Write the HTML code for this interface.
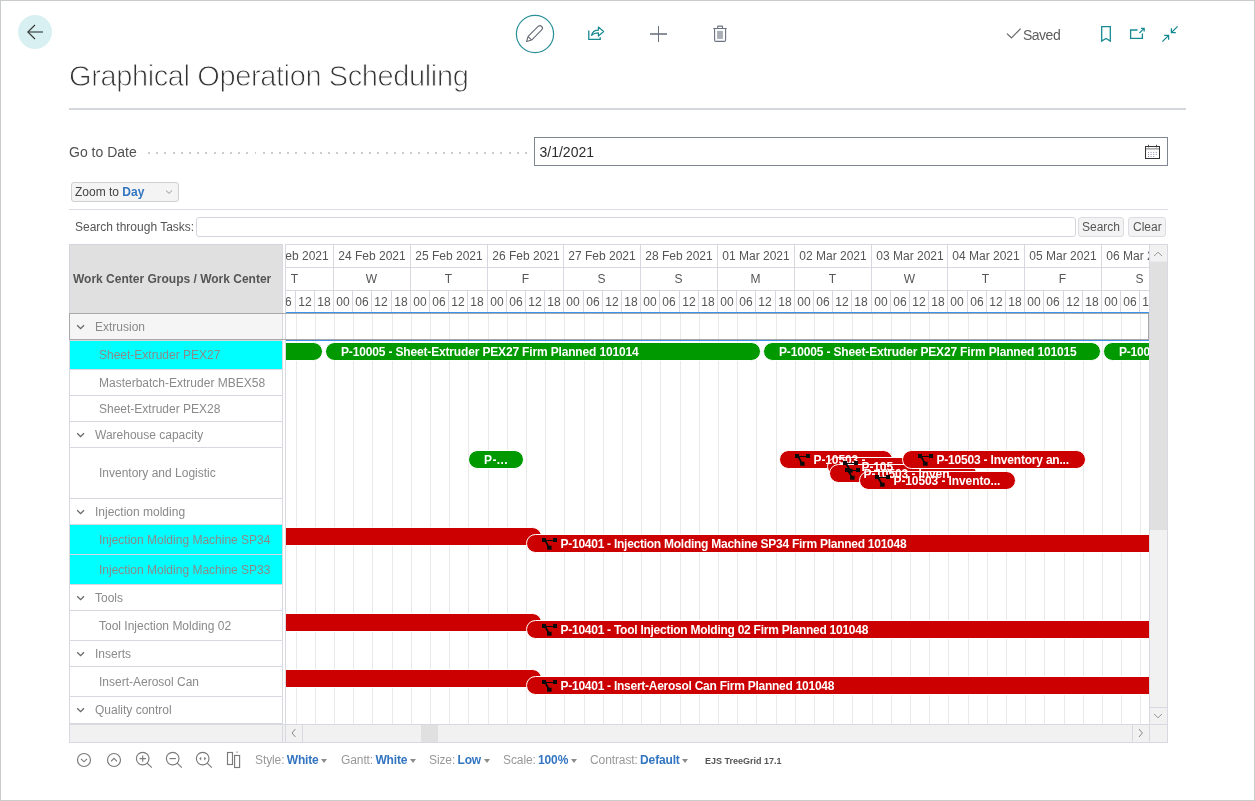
<!DOCTYPE html><html><head><meta charset="utf-8"><title>Graphical Operation Scheduling</title><style>
*{box-sizing:border-box}
html,body{margin:0;padding:0}
body{width:1255px;height:801px;position:relative;overflow:hidden;background:#fff;font-family:"Liberation Sans",sans-serif;color:#444}
.a{position:absolute}
.frame{left:0;top:0;width:1255px;height:801px;border:1px solid #c9cccc;z-index:50;pointer-events:none}
.t{position:absolute;white-space:nowrap;line-height:1}
.hl{position:absolute;background:#d8d8e0}
.row{position:absolute;left:69px;width:214px;border-bottom:1px solid #d8d8e0;border-left:1px solid #d8d8e0;background:#fff}
.rt{position:absolute;white-space:nowrap;font-size:12px;color:#8a8a8a;line-height:14px}
.bar{position:absolute;height:19px;border-radius:9.5px;border:1px solid #fff;color:#fff;font-weight:bold;font-size:12px;line-height:17px;letter-spacing:-0.2px;white-space:nowrap;overflow:hidden}
.g{background:#009900}
.r{background:#cc0000}
.hd{position:absolute;font-size:12px;color:#555;white-space:nowrap;line-height:14px}
.tb{position:absolute;letter-spacing:-0.1px;font-size:12px;white-space:nowrap;line-height:14px;color:#999;top:753px}
.tb b{color:#3375c0;letter-spacing:-0.15px}
</style></head><body><div class="a" style="left:0;top:0;width:1255px;height:801px;will-change:transform">
<div class="a frame"></div>
<div class="a" style="left:18px;top:15px;width:34px;height:34px;border-radius:50%;background:#d9f0f3"></div>
<svg class="a" style="left:18px;top:15px" width="34" height="34" viewBox="0 0 34 34"><path d="M25 17H10" fill="none" stroke="#5a6666" stroke-width="1.5"/><path d="M17 10L9.8 17l7.2 7" fill="none" stroke="#333" stroke-width="1.1"/></svg>
<svg class="a" style="left:514px;top:13px" width="42" height="42" viewBox="0 0 42 42"><circle cx="21" cy="21" r="18.6" fill="none" stroke="#2a9098" stroke-width="1.2"/><path d="M12.6 28.5L14.08 23.48L24.12 13.44A2.5 2.5 0 0 1 27.66 16.98L17.62 27.02Z M14.08 23.48L17.62 27.02" fill="none" stroke="#646c74" stroke-width="1.1" stroke-linejoin="round"/></svg>
<svg class="a" style="left:586px;top:24px" width="22" height="20" viewBox="0 0 22 20"><path d="M2.8 6.5V15.4H14.2V13.2" fill="none" stroke="#178a92" stroke-width="1.3"/><path d="M5.6 11.4c0.6-3.6 3-5.2 6.8-5.2V3l5.2 4.5-5.2 4.5V8.8c-2.9-0.1-5 0.6-6.8 2.6z" fill="none" stroke="#178a92" stroke-width="1.2" stroke-linejoin="round"/></svg>
<div class="a" style="left:650px;top:33.4px;width:17px;height:1.2px;background:#8a909a"></div><div class="a" style="left:658px;top:26px;width:1px;height:16px;background:#6b7280"></div>
<svg class="a" style="left:711px;top:24px" width="18" height="20" viewBox="0 0 18 20"><path d="M2.3 4.5H15.7M6.7 4.3V2.6Q6.7 2.1 7.2 2.1H11Q11.5 2.1 11.5 2.6V4.3M3.6 4.8V16Q3.6 17.4 5 17.4H13.2Q14.6 17.4 14.6 16V4.8" fill="none" stroke="#6b7280" stroke-width="1.1"/><rect x="6.1" y="6.9" width="5.8" height="8" fill="#a9adb6"/></svg>
<svg class="a" style="left:1005px;top:26px" width="18" height="15" viewBox="0 0 18 15"><path d="M2 7.6l4.4 4.4L15.6 2.6" fill="none" stroke="#666" stroke-width="1.2"/></svg>
<div class="t" style="left:1023px;top:28px;font-size:14px;color:#5c5c5c;letter-spacing:-0.5px">Saved</div>
<svg class="a" style="left:1099px;top:24px" width="14" height="20" viewBox="0 0 14 20"><path d="M2.7 2.6H11.3V17l-4.3-2.6L2.7 17z" fill="none" stroke="#178a92" stroke-width="1.3"/></svg>
<svg class="a" style="left:1128px;top:25px" width="19" height="16" viewBox="0 0 19 16"><path d="M9.5 5H2.6V13.4H14.4V8.6" fill="none" stroke="#178a92" stroke-width="1.3"/><path d="M11.4 8L16.2 3.4M13 3.4H16.2V6.6" fill="none" stroke="#178a92" stroke-width="1.2"/></svg>
<svg class="a" style="left:1160px;top:24px" width="20" height="20" viewBox="0 0 20 20"><path d="M17.6 2.4L11.4 8.6M11.4 4.2V8.6H15.8M2.4 17.6L8.6 11.4M4.2 11.4H8.6V15.8" fill="none" stroke="#178a92" stroke-width="1.3"/></svg>
<div class="t" style="left:69px;top:62px;font-size:29px;color:#333;letter-spacing:-0.39px;-webkit-text-stroke:0.9px #fff">Graphical Operation Scheduling</div>
<div class="a" style="left:69px;top:108px;width:1117px;height:2px;background:#d4d8dc"></div>
<div class="t" style="left:69px;top:145px;font-size:14px;color:#505050;letter-spacing:0px">Go to Date</div>
<div class="a" style="left:147px;top:152px;width:382px;height:2px;background:repeating-linear-gradient(90deg,transparent 0,transparent 0.9px,#cdcdcd 0.9px,#cdcdcd 2.9px,transparent 2.9px,transparent 8.2px)"></div>
<div class="a" style="left:534px;top:137px;width:634px;height:29px;border:1px solid #7f8691;background:#fff"></div>
<div class="t" style="left:539.5px;top:145px;font-size:14px;color:#2c2c2c">3/1/2021</div>
<svg class="a" style="left:1144px;top:144px" width="17" height="16" viewBox="0 0 17 16"><rect x="1.5" y="2.5" width="14" height="12" fill="#fff" stroke="#333" stroke-width="1"/><rect x="2" y="4" width="13" height="1.6" fill="#aaa"/><path d="M4.5 0.8V3.4M12.5 0.8V3.4" stroke="#444" stroke-width="1"/><path d="M4 8.5h9M4 10.5h9M4 12.5h7" stroke="#9a94b8" stroke-width="1" stroke-dasharray="1 1.6"/></svg>
<div class="a" style="left:71px;top:182px;width:108px;height:20px;border:1px solid #cfcfcf;border-radius:3px;background:#f4f4f4"></div>
<div class="t" style="left:75px;top:185px;font-size:12px;line-height:14px;color:#444">Zoom to <b style="color:#3375c0">Day</b></div>
<svg class="a" style="left:164px;top:188px" width="10" height="8" viewBox="0 0 10 8"><path d="M2 2.6L5 5.4 8 2.6" fill="none" stroke="#999" stroke-width="1"/></svg>
<div class="a" style="left:69px;top:209px;width:1099px;height:1px;background:#dcdce2"></div>
<div class="t" style="left:75px;top:220px;font-size:12px;line-height:14px;color:#555">Search through Tasks:</div>
<div class="a" style="left:196px;top:217px;width:880px;height:20px;border:1px solid #d4d4dc;border-radius:3px;background:#fff"></div>
<div class="a" style="left:1078px;top:217px;width:46px;height:20px;border:1px solid #dcdce2;border-radius:3px;background:#f3f3f3"></div>
<div class="t" style="left:1082px;top:220px;font-size:12px;line-height:14px;color:#555">Search</div>
<div class="a" style="left:1128px;top:217px;width:38px;height:20px;border:1px solid #dcdce2;border-radius:3px;background:#f3f3f3"></div>
<div class="t" style="left:1133px;top:220px;font-size:12px;line-height:14px;color:#555">Clear</div>
<div class="a" style="left:69px;top:244px;width:214px;height:70px;background:#e0e0e0;border:1px solid #d4d4dc"></div>
<div class="t" style="left:73px;top:272px;font-size:12px;line-height:14px;font-weight:bold;color:#555">Work Center Groups / Work Center</div>
<div class="row" style="top:314px;height:27px;background:#f5f5f5"></div>
<svg class="a" style="left:76px;top:323.0px" width="10" height="7" viewBox="0 0 10 7"><path d="M1.2 2.3L4.6 5.7 8 2.3" fill="none" stroke="#666" stroke-width="1.3"/></svg>
<div class="rt" style="left:95px;top:320.0px">Extrusion</div>
<div class="row" style="top:341px;height:29px;background:#00ffff"></div>
<div class="rt" style="left:99px;top:348.0px">Sheet-Extruder PEX27</div>
<div class="row" style="top:370px;height:26px;background:#fff"></div>
<div class="rt" style="left:99px;top:375.5px">Masterbatch-Extruder MBEX58</div>
<div class="row" style="top:396px;height:26px;background:#fff"></div>
<div class="rt" style="left:99px;top:401.5px">Sheet-Extruder PEX28</div>
<div class="row" style="top:422px;height:26px;background:#fff"></div>
<svg class="a" style="left:76px;top:430.5px" width="10" height="7" viewBox="0 0 10 7"><path d="M1.2 2.3L4.6 5.7 8 2.3" fill="none" stroke="#666" stroke-width="1.3"/></svg>
<div class="rt" style="left:95px;top:427.5px">Warehouse capacity</div>
<div class="row" style="top:448px;height:51px;background:#fff"></div>
<div class="rt" style="left:99px;top:466.0px">Inventory and Logistic</div>
<div class="row" style="top:499px;height:26px;background:#fff"></div>
<svg class="a" style="left:76px;top:507.5px" width="10" height="7" viewBox="0 0 10 7"><path d="M1.2 2.3L4.6 5.7 8 2.3" fill="none" stroke="#666" stroke-width="1.3"/></svg>
<div class="rt" style="left:95px;top:504.5px">Injection molding</div>
<div class="row" style="top:525px;height:30px;background:#00ffff"></div>
<div class="rt" style="left:99px;top:532.5px">Injection Molding Machine SP34</div>
<div class="row" style="top:555px;height:30px;background:#00ffff"></div>
<div class="rt" style="left:99px;top:562.5px">Injection Molding Machine SP33</div>
<div class="row" style="top:585px;height:26px;background:#fff"></div>
<svg class="a" style="left:76px;top:593.5px" width="10" height="7" viewBox="0 0 10 7"><path d="M1.2 2.3L4.6 5.7 8 2.3" fill="none" stroke="#666" stroke-width="1.3"/></svg>
<div class="rt" style="left:95px;top:590.5px">Tools</div>
<div class="row" style="top:611px;height:30px;background:#fff"></div>
<div class="rt" style="left:99px;top:618.5px">Tool Injection Molding 02</div>
<div class="row" style="top:641px;height:26px;background:#fff"></div>
<svg class="a" style="left:76px;top:649.5px" width="10" height="7" viewBox="0 0 10 7"><path d="M1.2 2.3L4.6 5.7 8 2.3" fill="none" stroke="#666" stroke-width="1.3"/></svg>
<div class="rt" style="left:95px;top:646.5px">Inserts</div>
<div class="row" style="top:667px;height:30px;background:#fff"></div>
<div class="rt" style="left:99px;top:674.5px">Insert-Aerosol Can</div>
<div class="row" style="top:697px;height:26px;background:#fff"></div>
<svg class="a" style="left:76px;top:705.5px" width="10" height="7" viewBox="0 0 10 7"><path d="M1.2 2.3L4.6 5.7 8 2.3" fill="none" stroke="#666" stroke-width="1.3"/></svg>
<div class="rt" style="left:95px;top:702.5px">Quality control</div>
<div class="a" style="left:69px;top:722px;width:214px;height:2px;background:#fff;border-left:1px solid #d8d8e0;border-bottom:1px solid #d8d8e0"></div>
<div class="a" style="left:282px;top:244px;width:1px;height:498px;background:#d8d8e0"></div>
<div class="a" style="left:285px;top:244px;width:1px;height:498px;background:#d8d8e0"></div>
<div class="a" style="left:286px;top:244px;width:863px;height:480px;overflow:hidden;background:#fff">
<div class="hl" style="left:0;top:0;width:100%;height:1px"></div>
<div class="hl" style="left:0;top:23px;width:100%;height:1px"></div>
<div class="hl" style="left:0;top:46px;width:100%;height:1px"></div>
<div class="hl" style="left:-30px;top:0;width:1px;height:69px"></div>
<div class="hd" style="left:-30px;width:77px;top:5px;text-align:center;padding-left:1px">23 Feb 2021</div>
<div class="hd" style="left:-30px;width:77px;top:28px;text-align:center">T</div>
<div class="hd" style="left:-30px;width:19px;top:51px;text-align:center;padding-left:1px">00</div>
<div class="a" style="left:-29px;top:70px;width:1px;height:410px;background:#e9e9e9"></div>
<div class="hl" style="left:-11px;top:46px;width:1px;height:23px"></div>
<div class="hd" style="left:-11px;width:19px;top:51px;text-align:center;padding-left:1px">06</div>
<div class="a" style="left:-10px;top:70px;width:1px;height:410px;background:#e9e9e9"></div>
<div class="hl" style="left:9px;top:46px;width:1px;height:23px"></div>
<div class="hd" style="left:9px;width:19px;top:51px;text-align:center;padding-left:1px">12</div>
<div class="a" style="left:10px;top:70px;width:1px;height:410px;background:#e9e9e9"></div>
<div class="hl" style="left:28px;top:46px;width:1px;height:23px"></div>
<div class="hd" style="left:28px;width:19px;top:51px;text-align:center;padding-left:1px">18</div>
<div class="a" style="left:29px;top:70px;width:1px;height:410px;background:#e9e9e9"></div>
<div class="hl" style="left:47px;top:0;width:1px;height:69px"></div>
<div class="hd" style="left:47px;width:77px;top:5px;text-align:center;padding-left:1px">24 Feb 2021</div>
<div class="hd" style="left:47px;width:77px;top:28px;text-align:center">W</div>
<div class="hd" style="left:47px;width:19px;top:51px;text-align:center;padding-left:1px">00</div>
<div class="a" style="left:48px;top:70px;width:1px;height:410px;background:#e9e9e9"></div>
<div class="hl" style="left:66px;top:46px;width:1px;height:23px"></div>
<div class="hd" style="left:66px;width:19px;top:51px;text-align:center;padding-left:1px">06</div>
<div class="a" style="left:67px;top:70px;width:1px;height:410px;background:#e9e9e9"></div>
<div class="hl" style="left:85px;top:46px;width:1px;height:23px"></div>
<div class="hd" style="left:85px;width:19px;top:51px;text-align:center;padding-left:1px">12</div>
<div class="a" style="left:86px;top:70px;width:1px;height:410px;background:#e9e9e9"></div>
<div class="hl" style="left:105px;top:46px;width:1px;height:23px"></div>
<div class="hd" style="left:105px;width:19px;top:51px;text-align:center;padding-left:1px">18</div>
<div class="a" style="left:106px;top:70px;width:1px;height:410px;background:#e9e9e9"></div>
<div class="hl" style="left:124px;top:0;width:1px;height:69px"></div>
<div class="hd" style="left:124px;width:77px;top:5px;text-align:center;padding-left:1px">25 Feb 2021</div>
<div class="hd" style="left:124px;width:77px;top:28px;text-align:center">T</div>
<div class="hd" style="left:124px;width:19px;top:51px;text-align:center;padding-left:1px">00</div>
<div class="a" style="left:125px;top:70px;width:1px;height:410px;background:#e9e9e9"></div>
<div class="hl" style="left:143px;top:46px;width:1px;height:23px"></div>
<div class="hd" style="left:143px;width:19px;top:51px;text-align:center;padding-left:1px">06</div>
<div class="a" style="left:144px;top:70px;width:1px;height:410px;background:#e9e9e9"></div>
<div class="hl" style="left:162px;top:46px;width:1px;height:23px"></div>
<div class="hd" style="left:162px;width:19px;top:51px;text-align:center;padding-left:1px">12</div>
<div class="a" style="left:163px;top:70px;width:1px;height:410px;background:#e9e9e9"></div>
<div class="hl" style="left:181px;top:46px;width:1px;height:23px"></div>
<div class="hd" style="left:181px;width:19px;top:51px;text-align:center;padding-left:1px">18</div>
<div class="a" style="left:182px;top:70px;width:1px;height:410px;background:#e9e9e9"></div>
<div class="hl" style="left:201px;top:0;width:1px;height:69px"></div>
<div class="hd" style="left:201px;width:77px;top:5px;text-align:center;padding-left:1px">26 Feb 2021</div>
<div class="hd" style="left:201px;width:77px;top:28px;text-align:center">F</div>
<div class="hd" style="left:201px;width:19px;top:51px;text-align:center;padding-left:1px">00</div>
<div class="a" style="left:202px;top:70px;width:1px;height:410px;background:#e9e9e9"></div>
<div class="hl" style="left:220px;top:46px;width:1px;height:23px"></div>
<div class="hd" style="left:220px;width:19px;top:51px;text-align:center;padding-left:1px">06</div>
<div class="a" style="left:221px;top:70px;width:1px;height:410px;background:#e9e9e9"></div>
<div class="hl" style="left:239px;top:46px;width:1px;height:23px"></div>
<div class="hd" style="left:239px;width:19px;top:51px;text-align:center;padding-left:1px">12</div>
<div class="a" style="left:240px;top:70px;width:1px;height:410px;background:#e9e9e9"></div>
<div class="hl" style="left:258px;top:46px;width:1px;height:23px"></div>
<div class="hd" style="left:258px;width:19px;top:51px;text-align:center;padding-left:1px">18</div>
<div class="a" style="left:259px;top:70px;width:1px;height:410px;background:#e9e9e9"></div>
<div class="hl" style="left:277px;top:0;width:1px;height:69px"></div>
<div class="hd" style="left:277px;width:77px;top:5px;text-align:center;padding-left:1px">27 Feb 2021</div>
<div class="hd" style="left:277px;width:77px;top:28px;text-align:center">S</div>
<div class="hd" style="left:277px;width:19px;top:51px;text-align:center;padding-left:1px">00</div>
<div class="a" style="left:278px;top:70px;width:1px;height:410px;background:#e9e9e9"></div>
<div class="hl" style="left:297px;top:46px;width:1px;height:23px"></div>
<div class="hd" style="left:297px;width:19px;top:51px;text-align:center;padding-left:1px">06</div>
<div class="a" style="left:298px;top:70px;width:1px;height:410px;background:#e9e9e9"></div>
<div class="hl" style="left:316px;top:46px;width:1px;height:23px"></div>
<div class="hd" style="left:316px;width:19px;top:51px;text-align:center;padding-left:1px">12</div>
<div class="a" style="left:317px;top:70px;width:1px;height:410px;background:#e9e9e9"></div>
<div class="hl" style="left:335px;top:46px;width:1px;height:23px"></div>
<div class="hd" style="left:335px;width:19px;top:51px;text-align:center;padding-left:1px">18</div>
<div class="a" style="left:336px;top:70px;width:1px;height:410px;background:#e9e9e9"></div>
<div class="hl" style="left:354px;top:0;width:1px;height:69px"></div>
<div class="hd" style="left:354px;width:77px;top:5px;text-align:center;padding-left:1px">28 Feb 2021</div>
<div class="hd" style="left:354px;width:77px;top:28px;text-align:center">S</div>
<div class="hd" style="left:354px;width:19px;top:51px;text-align:center;padding-left:1px">00</div>
<div class="a" style="left:355px;top:70px;width:1px;height:410px;background:#e9e9e9"></div>
<div class="hl" style="left:373px;top:46px;width:1px;height:23px"></div>
<div class="hd" style="left:373px;width:19px;top:51px;text-align:center;padding-left:1px">06</div>
<div class="a" style="left:374px;top:70px;width:1px;height:410px;background:#e9e9e9"></div>
<div class="hl" style="left:393px;top:46px;width:1px;height:23px"></div>
<div class="hd" style="left:393px;width:19px;top:51px;text-align:center;padding-left:1px">12</div>
<div class="a" style="left:394px;top:70px;width:1px;height:410px;background:#e9e9e9"></div>
<div class="hl" style="left:412px;top:46px;width:1px;height:23px"></div>
<div class="hd" style="left:412px;width:19px;top:51px;text-align:center;padding-left:1px">18</div>
<div class="a" style="left:413px;top:70px;width:1px;height:410px;background:#e9e9e9"></div>
<div class="hl" style="left:431px;top:0;width:1px;height:69px"></div>
<div class="hd" style="left:431px;width:77px;top:5px;text-align:center;padding-left:1px">01 Mar 2021</div>
<div class="hd" style="left:431px;width:77px;top:28px;text-align:center">M</div>
<div class="hd" style="left:431px;width:19px;top:51px;text-align:center;padding-left:1px">00</div>
<div class="a" style="left:432px;top:70px;width:1px;height:410px;background:#e9e9e9"></div>
<div class="hl" style="left:450px;top:46px;width:1px;height:23px"></div>
<div class="hd" style="left:450px;width:19px;top:51px;text-align:center;padding-left:1px">06</div>
<div class="a" style="left:451px;top:70px;width:1px;height:410px;background:#e9e9e9"></div>
<div class="hl" style="left:469px;top:46px;width:1px;height:23px"></div>
<div class="hd" style="left:469px;width:19px;top:51px;text-align:center;padding-left:1px">12</div>
<div class="a" style="left:470px;top:70px;width:1px;height:410px;background:#e9e9e9"></div>
<div class="hl" style="left:489px;top:46px;width:1px;height:23px"></div>
<div class="hd" style="left:489px;width:19px;top:51px;text-align:center;padding-left:1px">18</div>
<div class="a" style="left:490px;top:70px;width:1px;height:410px;background:#e9e9e9"></div>
<div class="hl" style="left:508px;top:0;width:1px;height:69px"></div>
<div class="hd" style="left:508px;width:77px;top:5px;text-align:center;padding-left:1px">02 Mar 2021</div>
<div class="hd" style="left:508px;width:77px;top:28px;text-align:center">T</div>
<div class="hd" style="left:508px;width:19px;top:51px;text-align:center;padding-left:1px">00</div>
<div class="a" style="left:509px;top:70px;width:1px;height:410px;background:#e9e9e9"></div>
<div class="hl" style="left:527px;top:46px;width:1px;height:23px"></div>
<div class="hd" style="left:527px;width:19px;top:51px;text-align:center;padding-left:1px">06</div>
<div class="a" style="left:528px;top:70px;width:1px;height:410px;background:#e9e9e9"></div>
<div class="hl" style="left:546px;top:46px;width:1px;height:23px"></div>
<div class="hd" style="left:546px;width:19px;top:51px;text-align:center;padding-left:1px">12</div>
<div class="a" style="left:547px;top:70px;width:1px;height:410px;background:#e9e9e9"></div>
<div class="hl" style="left:565px;top:46px;width:1px;height:23px"></div>
<div class="hd" style="left:565px;width:19px;top:51px;text-align:center;padding-left:1px">18</div>
<div class="a" style="left:566px;top:70px;width:1px;height:410px;background:#e9e9e9"></div>
<div class="hl" style="left:585px;top:0;width:1px;height:69px"></div>
<div class="hd" style="left:585px;width:77px;top:5px;text-align:center;padding-left:1px">03 Mar 2021</div>
<div class="hd" style="left:585px;width:77px;top:28px;text-align:center">W</div>
<div class="hd" style="left:585px;width:19px;top:51px;text-align:center;padding-left:1px">00</div>
<div class="a" style="left:586px;top:70px;width:1px;height:410px;background:#e9e9e9"></div>
<div class="hl" style="left:604px;top:46px;width:1px;height:23px"></div>
<div class="hd" style="left:604px;width:19px;top:51px;text-align:center;padding-left:1px">06</div>
<div class="a" style="left:605px;top:70px;width:1px;height:410px;background:#e9e9e9"></div>
<div class="hl" style="left:623px;top:46px;width:1px;height:23px"></div>
<div class="hd" style="left:623px;width:19px;top:51px;text-align:center;padding-left:1px">12</div>
<div class="a" style="left:624px;top:70px;width:1px;height:410px;background:#e9e9e9"></div>
<div class="hl" style="left:642px;top:46px;width:1px;height:23px"></div>
<div class="hd" style="left:642px;width:19px;top:51px;text-align:center;padding-left:1px">18</div>
<div class="a" style="left:643px;top:70px;width:1px;height:410px;background:#e9e9e9"></div>
<div class="hl" style="left:661px;top:0;width:1px;height:69px"></div>
<div class="hd" style="left:661px;width:77px;top:5px;text-align:center;padding-left:1px">04 Mar 2021</div>
<div class="hd" style="left:661px;width:77px;top:28px;text-align:center">T</div>
<div class="hd" style="left:661px;width:19px;top:51px;text-align:center;padding-left:1px">00</div>
<div class="a" style="left:662px;top:70px;width:1px;height:410px;background:#e9e9e9"></div>
<div class="hl" style="left:681px;top:46px;width:1px;height:23px"></div>
<div class="hd" style="left:681px;width:19px;top:51px;text-align:center;padding-left:1px">06</div>
<div class="a" style="left:682px;top:70px;width:1px;height:410px;background:#e9e9e9"></div>
<div class="hl" style="left:700px;top:46px;width:1px;height:23px"></div>
<div class="hd" style="left:700px;width:19px;top:51px;text-align:center;padding-left:1px">12</div>
<div class="a" style="left:701px;top:70px;width:1px;height:410px;background:#e9e9e9"></div>
<div class="hl" style="left:719px;top:46px;width:1px;height:23px"></div>
<div class="hd" style="left:719px;width:19px;top:51px;text-align:center;padding-left:1px">18</div>
<div class="a" style="left:720px;top:70px;width:1px;height:410px;background:#e9e9e9"></div>
<div class="hl" style="left:738px;top:0;width:1px;height:69px"></div>
<div class="hd" style="left:738px;width:77px;top:5px;text-align:center;padding-left:1px">05 Mar 2021</div>
<div class="hd" style="left:738px;width:77px;top:28px;text-align:center">F</div>
<div class="hd" style="left:738px;width:19px;top:51px;text-align:center;padding-left:1px">00</div>
<div class="a" style="left:739px;top:70px;width:1px;height:410px;background:#e9e9e9"></div>
<div class="hl" style="left:757px;top:46px;width:1px;height:23px"></div>
<div class="hd" style="left:757px;width:19px;top:51px;text-align:center;padding-left:1px">06</div>
<div class="a" style="left:758px;top:70px;width:1px;height:410px;background:#e9e9e9"></div>
<div class="hl" style="left:777px;top:46px;width:1px;height:23px"></div>
<div class="hd" style="left:777px;width:19px;top:51px;text-align:center;padding-left:1px">12</div>
<div class="a" style="left:778px;top:70px;width:1px;height:410px;background:#e9e9e9"></div>
<div class="hl" style="left:796px;top:46px;width:1px;height:23px"></div>
<div class="hd" style="left:796px;width:19px;top:51px;text-align:center;padding-left:1px">18</div>
<div class="a" style="left:797px;top:70px;width:1px;height:410px;background:#e9e9e9"></div>
<div class="hl" style="left:815px;top:0;width:1px;height:69px"></div>
<div class="hd" style="left:815px;width:77px;top:5px;text-align:center;padding-left:1px">06 Mar 2021</div>
<div class="hd" style="left:815px;width:77px;top:28px;text-align:center">S</div>
<div class="hd" style="left:815px;width:19px;top:51px;text-align:center;padding-left:1px">00</div>
<div class="a" style="left:816px;top:70px;width:1px;height:410px;background:#e9e9e9"></div>
<div class="hl" style="left:834px;top:46px;width:1px;height:23px"></div>
<div class="hd" style="left:834px;width:19px;top:51px;text-align:center;padding-left:1px">06</div>
<div class="a" style="left:835px;top:70px;width:1px;height:410px;background:#e9e9e9"></div>
<div class="hl" style="left:853px;top:46px;width:1px;height:23px"></div>
<div class="hd" style="left:853px;width:19px;top:51px;text-align:center;padding-left:1px">12</div>
<div class="a" style="left:854px;top:70px;width:1px;height:410px;background:#e9e9e9"></div>
<div class="hl" style="left:873px;top:46px;width:1px;height:23px"></div>
<div class="hd" style="left:873px;width:19px;top:51px;text-align:center;padding-left:1px">18</div>
<div class="a" style="left:874px;top:70px;width:1px;height:410px;background:#e9e9e9"></div>
<div class="hl" style="left:892px;top:0;width:1px;height:69px"></div>
<div class="hd" style="left:892px;width:77px;top:5px;text-align:center;padding-left:1px">07 Mar 2021</div>
<div class="hd" style="left:892px;width:77px;top:28px;text-align:center">S</div>
<div class="hd" style="left:892px;width:19px;top:51px;text-align:center;padding-left:1px">00</div>
<div class="a" style="left:893px;top:70px;width:1px;height:410px;background:#e9e9e9"></div>
<div class="hl" style="left:911px;top:46px;width:1px;height:23px"></div>
<div class="hd" style="left:911px;width:19px;top:51px;text-align:center;padding-left:1px">06</div>
<div class="a" style="left:912px;top:70px;width:1px;height:410px;background:#e9e9e9"></div>
<div class="hl" style="left:930px;top:46px;width:1px;height:23px"></div>
<div class="hd" style="left:930px;width:19px;top:51px;text-align:center;padding-left:1px">12</div>
<div class="a" style="left:931px;top:70px;width:1px;height:410px;background:#e9e9e9"></div>
<div class="hl" style="left:949px;top:46px;width:1px;height:23px"></div>
<div class="hd" style="left:949px;width:19px;top:51px;text-align:center;padding-left:1px">18</div>
<div class="a" style="left:950px;top:70px;width:1px;height:410px;background:#e9e9e9"></div>
<div class="a" style="left:0;top:68px;width:100%;height:1px;background:#3a94ec"></div>
<div class="a" style="left:0;top:96px;width:100%;height:1px;background:#3a94ec"></div>
<div class="bar g" style="left:-27px;top:98px;width:64px"></div>
<div class="bar g" style="left:39px;top:98px;width:436px"></div>
<div class="bar g" style="left:477px;top:98px;width:338px"></div>
<div class="bar g" style="left:817px;top:98px;width:299px"></div>
<div class="bar g" style="left:182px;top:206px;width:56px"></div>
<div class="bar r" style="left:493px;top:206px;width:114px"></div>
<div class="bar r" style="left:541px;top:213px;width:135px"></div>
<div class="bar r" style="left:543px;top:220px;width:148px"></div>
<div class="bar r" style="left:616px;top:206px;width:184px"></div>
<div class="bar r" style="left:573px;top:227px;width:157px"></div>
<div class="bar r" style="left:-37px;top:283px;width:293px"></div>
<div class="bar r" style="left:240px;top:290px;width:876px"></div>
<div class="bar r" style="left:-37px;top:369px;width:293px"></div>
<div class="bar r" style="left:240px;top:376px;width:876px"></div>
<div class="bar r" style="left:-37px;top:425px;width:293px"></div>
<div class="bar r" style="left:240px;top:432px;width:876px"></div>
<div class="bar" style="border-color:transparent;left:39px;top:98px;width:436px;letter-spacing:-0.16px;"><span style="position:absolute;left:15px;top:1px">P-10005 - Sheet-Extruder PEX27 Firm Planned 101014</span></div>
<div class="bar" style="border-color:transparent;left:477px;top:98px;width:338px;letter-spacing:-0.16px;"><span style="position:absolute;left:15px;top:1px">P-10005 - Sheet-Extruder PEX27 Firm Planned 101015</span></div>
<div class="bar" style="border-color:transparent;left:817px;top:98px;width:299px;"><span style="position:absolute;left:15px;top:1px">P-10005 - Sheet-Extruder PEX27</span></div>
<div class="bar" style="border-color:transparent;left:182px;top:206px;width:56px;letter-spacing:0.4px;"><span style="position:absolute;left:15px;top:1px">P-...</span></div>
<div class="bar" style="border-color:transparent;left:493px;top:206px;width:114px;letter-spacing:-0.1px;"><svg style="position:absolute;left:15px;top:3px" width="16" height="12" viewBox="0 0 16 12"><rect x="0" y="0" width="4" height="4" fill="#0a0a0a"/><rect x="11" y="0" width="4" height="4" fill="#0a0a0a"/><rect x="5.1" y="7.7" width="4.5" height="4" fill="#0a0a0a"/><path d="M3 2.5H12" stroke="#0a0a0a" stroke-width="1" fill="none"/><path d="M3.4 3L6.4 8.4" stroke="#0a0a0a" stroke-width="1.8" fill="none"/></svg><span style="position:absolute;left:33.5px;top:1px">P-10503 -</span></div>
<div class="bar" style="border-color:transparent;left:541px;top:213px;width:135px;letter-spacing:-0.1px;"><svg style="position:absolute;left:15px;top:3px" width="16" height="12" viewBox="0 0 16 12"><rect x="0" y="0" width="4" height="4" fill="#0a0a0a"/><rect x="11" y="0" width="4" height="4" fill="#0a0a0a"/><rect x="5.1" y="7.7" width="4.5" height="4" fill="#0a0a0a"/><path d="M3 2.5H12" stroke="#0a0a0a" stroke-width="1" fill="none"/><path d="M3.4 3L6.4 8.4" stroke="#0a0a0a" stroke-width="1.8" fill="none"/></svg><span style="position:absolute;left:33.5px;top:1px">P-105</span></div>
<div class="bar" style="border-color:transparent;left:543px;top:220px;width:148px;letter-spacing:-0.1px;"><svg style="position:absolute;left:15px;top:3px" width="16" height="12" viewBox="0 0 16 12"><rect x="0" y="0" width="4" height="4" fill="#0a0a0a"/><rect x="11" y="0" width="4" height="4" fill="#0a0a0a"/><rect x="5.1" y="7.7" width="4.5" height="4" fill="#0a0a0a"/><path d="M3 2.5H12" stroke="#0a0a0a" stroke-width="1" fill="none"/><path d="M3.4 3L6.4 8.4" stroke="#0a0a0a" stroke-width="1.8" fill="none"/></svg><span style="position:absolute;left:33.5px;top:1px">P-10503 - Inven</span></div>
<div class="bar" style="border-color:transparent;left:616px;top:206px;width:184px;"><svg style="position:absolute;left:15px;top:3px" width="16" height="12" viewBox="0 0 16 12"><rect x="0" y="0" width="4" height="4" fill="#0a0a0a"/><rect x="11" y="0" width="4" height="4" fill="#0a0a0a"/><rect x="5.1" y="7.7" width="4.5" height="4" fill="#0a0a0a"/><path d="M3 2.5H12" stroke="#0a0a0a" stroke-width="1" fill="none"/><path d="M3.4 3L6.4 8.4" stroke="#0a0a0a" stroke-width="1.8" fill="none"/></svg><span style="position:absolute;left:33.5px;top:1px">P-10503 - Inventory an...</span></div>
<div class="bar" style="border-color:transparent;left:573px;top:227px;width:157px;letter-spacing:-0.1px;"><svg style="position:absolute;left:15px;top:3px" width="16" height="12" viewBox="0 0 16 12"><rect x="0" y="0" width="4" height="4" fill="#0a0a0a"/><rect x="11" y="0" width="4" height="4" fill="#0a0a0a"/><rect x="5.1" y="7.7" width="4.5" height="4" fill="#0a0a0a"/><path d="M3 2.5H12" stroke="#0a0a0a" stroke-width="1" fill="none"/><path d="M3.4 3L6.4 8.4" stroke="#0a0a0a" stroke-width="1.8" fill="none"/></svg><span style="position:absolute;left:33.5px;top:1px">P-10503 - Invento...</span></div>
<div class="bar" style="border-color:transparent;left:240px;top:290px;width:876px;letter-spacing:-0.26px;"><svg style="position:absolute;left:15px;top:3px" width="16" height="12" viewBox="0 0 16 12"><rect x="0" y="0" width="4" height="4" fill="#0a0a0a"/><rect x="11" y="0" width="4" height="4" fill="#0a0a0a"/><rect x="5.1" y="7.7" width="4.5" height="4" fill="#0a0a0a"/><path d="M3 2.5H12" stroke="#0a0a0a" stroke-width="1" fill="none"/><path d="M3.4 3L6.4 8.4" stroke="#0a0a0a" stroke-width="1.8" fill="none"/></svg><span style="position:absolute;left:33.5px;top:1px">P-10401 - Injection Molding Machine SP34 Firm Planned 101048</span></div>
<div class="bar" style="border-color:transparent;left:240px;top:376px;width:876px;letter-spacing:-0.26px;"><svg style="position:absolute;left:15px;top:3px" width="16" height="12" viewBox="0 0 16 12"><rect x="0" y="0" width="4" height="4" fill="#0a0a0a"/><rect x="11" y="0" width="4" height="4" fill="#0a0a0a"/><rect x="5.1" y="7.7" width="4.5" height="4" fill="#0a0a0a"/><path d="M3 2.5H12" stroke="#0a0a0a" stroke-width="1" fill="none"/><path d="M3.4 3L6.4 8.4" stroke="#0a0a0a" stroke-width="1.8" fill="none"/></svg><span style="position:absolute;left:33.5px;top:1px">P-10401 - Tool Injection Molding 02 Firm Planned 101048</span></div>
<div class="bar" style="border-color:transparent;left:240px;top:432px;width:876px;letter-spacing:-0.26px;"><svg style="position:absolute;left:15px;top:3px" width="16" height="12" viewBox="0 0 16 12"><rect x="0" y="0" width="4" height="4" fill="#0a0a0a"/><rect x="11" y="0" width="4" height="4" fill="#0a0a0a"/><rect x="5.1" y="7.7" width="4.5" height="4" fill="#0a0a0a"/><path d="M3 2.5H12" stroke="#0a0a0a" stroke-width="1" fill="none"/><path d="M3.4 3L6.4 8.4" stroke="#0a0a0a" stroke-width="1.8" fill="none"/></svg><span style="position:absolute;left:33.5px;top:1px">P-10401 - Insert-Aerosol Can Firm Planned 101048</span></div>
</div>
<div class="a" style="left:69px;top:313px;width:1080px;height:27px;border:1px solid #a8a8a8"></div>
<div class="a" style="left:1149px;top:244px;width:19px;height:481px;background:#f1f1f1;border:1px solid #d8d8e0"></div>
<div class="a" style="left:1150px;top:261px;width:17px;height:1px;background:#e8e8ee"></div>
<div class="a" style="left:1150px;top:262px;width:17px;height:268px;background:#e0e0e0"></div>
<svg class="a" style="left:1152px;top:250px" width="12" height="8" viewBox="0 0 12 8"><path d="M2 6L6 2.2 10 6" fill="none" stroke="#999" stroke-width="1"/></svg>
<div class="a" style="left:1149px;top:707px;width:19px;height:1px;background:#d8d8e0"></div>
<svg class="a" style="left:1152px;top:712px" width="12" height="8" viewBox="0 0 12 8"><path d="M2 2L6 5.8 10 2" fill="none" stroke="#999" stroke-width="1"/></svg>
<div class="a" style="left:69px;top:724px;width:1099px;height:19px;background:#f1f1f1;border:1px solid #d8d8e0"></div>
<div class="a" style="left:282px;top:725px;width:4px;height:17px;background:#f1f1f1;border-left:1px solid #d8d8e0;border-right:1px solid #d8d8e0"></div>
<div class="a" style="left:302px;top:725px;width:1px;height:17px;background:#d8d8e0"></div>
<svg class="a" style="left:289px;top:727px" width="8" height="12" viewBox="0 0 8 12"><path d="M6.4 2L3 6 6.4 10" fill="none" stroke="#888" stroke-width="1"/></svg>
<div class="a" style="left:421px;top:725px;width:17px;height:17px;background:#e0e0e0"></div>
<div class="a" style="left:1132px;top:725px;width:1px;height:17px;background:#d8d8e0"></div>
<div class="a" style="left:1149px;top:725px;width:1px;height:17px;background:#d8d8e0"></div>
<svg class="a" style="left:1136px;top:727px" width="8" height="12" viewBox="0 0 8 12"><path d="M3 2L6.4 6 3 10" fill="none" stroke="#888" stroke-width="1"/></svg>
<svg class="a" style="left:75px;top:751px" width="20" height="20" viewBox="0 0 20 20"><circle cx="9" cy="9" r="6.5" fill="none" stroke="#7a7a7a" stroke-width="1.15"/><path d="M6 7.8L9 10.8 12 7.8" fill="none" stroke="#7a7a7a" stroke-width="1.15"/></svg>
<svg class="a" style="left:105px;top:751px" width="20" height="20" viewBox="0 0 20 20"><circle cx="9" cy="9" r="6.5" fill="none" stroke="#7a7a7a" stroke-width="1.15"/><path d="M6 10.4L9 7.4 12 10.4" fill="none" stroke="#7a7a7a" stroke-width="1.15"/></svg>
<svg class="a" style="left:135px;top:751px" width="20" height="20" viewBox="0 0 20 20"><circle cx="7.7" cy="7.6" r="6.3" fill="none" stroke="#7a7a7a" stroke-width="1.15"/><path d="M12.2 12.1L16.8 16.6" fill="none" stroke="#7a7a7a" stroke-width="1.15"/><path d="M4.5 7.6H10.9M7.7 4.4V10.8" fill="none" stroke="#7a7a7a" stroke-width="1.15"/></svg>
<svg class="a" style="left:165px;top:751px" width="20" height="20" viewBox="0 0 20 20"><circle cx="7.7" cy="7.6" r="6.3" fill="none" stroke="#7a7a7a" stroke-width="1.15"/><path d="M12.2 12.1L16.8 16.6" fill="none" stroke="#7a7a7a" stroke-width="1.15"/><path d="M4.5 7.6H10.9" fill="none" stroke="#7a7a7a" stroke-width="1.15"/></svg>
<svg class="a" style="left:195px;top:751px" width="20" height="20" viewBox="0 0 20 20"><circle cx="7.7" cy="7.6" r="6.3" fill="none" stroke="#7a7a7a" stroke-width="1.15"/><path d="M12.2 12.1L16.8 16.6" fill="none" stroke="#7a7a7a" stroke-width="1.15"/><path d="M4.2 7.6L6.2 5.8V9.4zM11.2 7.6L9.2 5.8V9.4z" fill="#777"/></svg>
<svg class="a" style="left:224px;top:751px" width="20" height="20" viewBox="0 0 20 20"><rect x="3.5" y="1.5" width="5" height="12" fill="none" stroke="#7a7a7a" stroke-width="1.15"/><rect x="10.6" y="4.5" width="5" height="12" fill="none" stroke="#7a7a7a" stroke-width="1.15"/><path d="M13.1 0.6v1.2" fill="none" stroke="#7a7a7a" stroke-width="1.15"/></svg>
<div class="tb" style="left:255px">Style:<b style="margin-left:2.3px">White</b><span style="display:inline-block;width:0;height:0;border-left:3.6px solid transparent;border-right:3.6px solid transparent;border-top:4.2px solid #8c8c8c;position:relative;top:-1.5px;margin-left:2.5px"></span></div>
<div class="tb" style="left:341px">Gantt:<b style="margin-left:2.3px">White</b><span style="display:inline-block;width:0;height:0;border-left:3.6px solid transparent;border-right:3.6px solid transparent;border-top:4.2px solid #8c8c8c;position:relative;top:-1.5px;margin-left:2.5px"></span></div>
<div class="tb" style="left:429px">Size:<b style="margin-left:2.3px">Low</b><span style="display:inline-block;width:0;height:0;border-left:3.6px solid transparent;border-right:3.6px solid transparent;border-top:4.2px solid #8c8c8c;position:relative;top:-1.5px;margin-left:2.5px"></span></div>
<div class="tb" style="left:503px">Scale:<b style="margin-left:2.3px">100%</b><span style="display:inline-block;width:0;height:0;border-left:3.6px solid transparent;border-right:3.6px solid transparent;border-top:4.2px solid #8c8c8c;position:relative;top:-1.5px;margin-left:2.5px"></span></div>
<div class="tb" style="left:590px">Contrast:<b style="margin-left:2.3px">Default</b><span style="display:inline-block;width:0;height:0;border-left:3.6px solid transparent;border-right:3.6px solid transparent;border-top:4.2px solid #8c8c8c;position:relative;top:-1.5px;margin-left:2.5px"></span></div>
<div class="t" style="left:705px;top:757px;font-size:9px;font-weight:bold;color:#555">EJS TreeGrid 17.1</div>
</div></body></html>
